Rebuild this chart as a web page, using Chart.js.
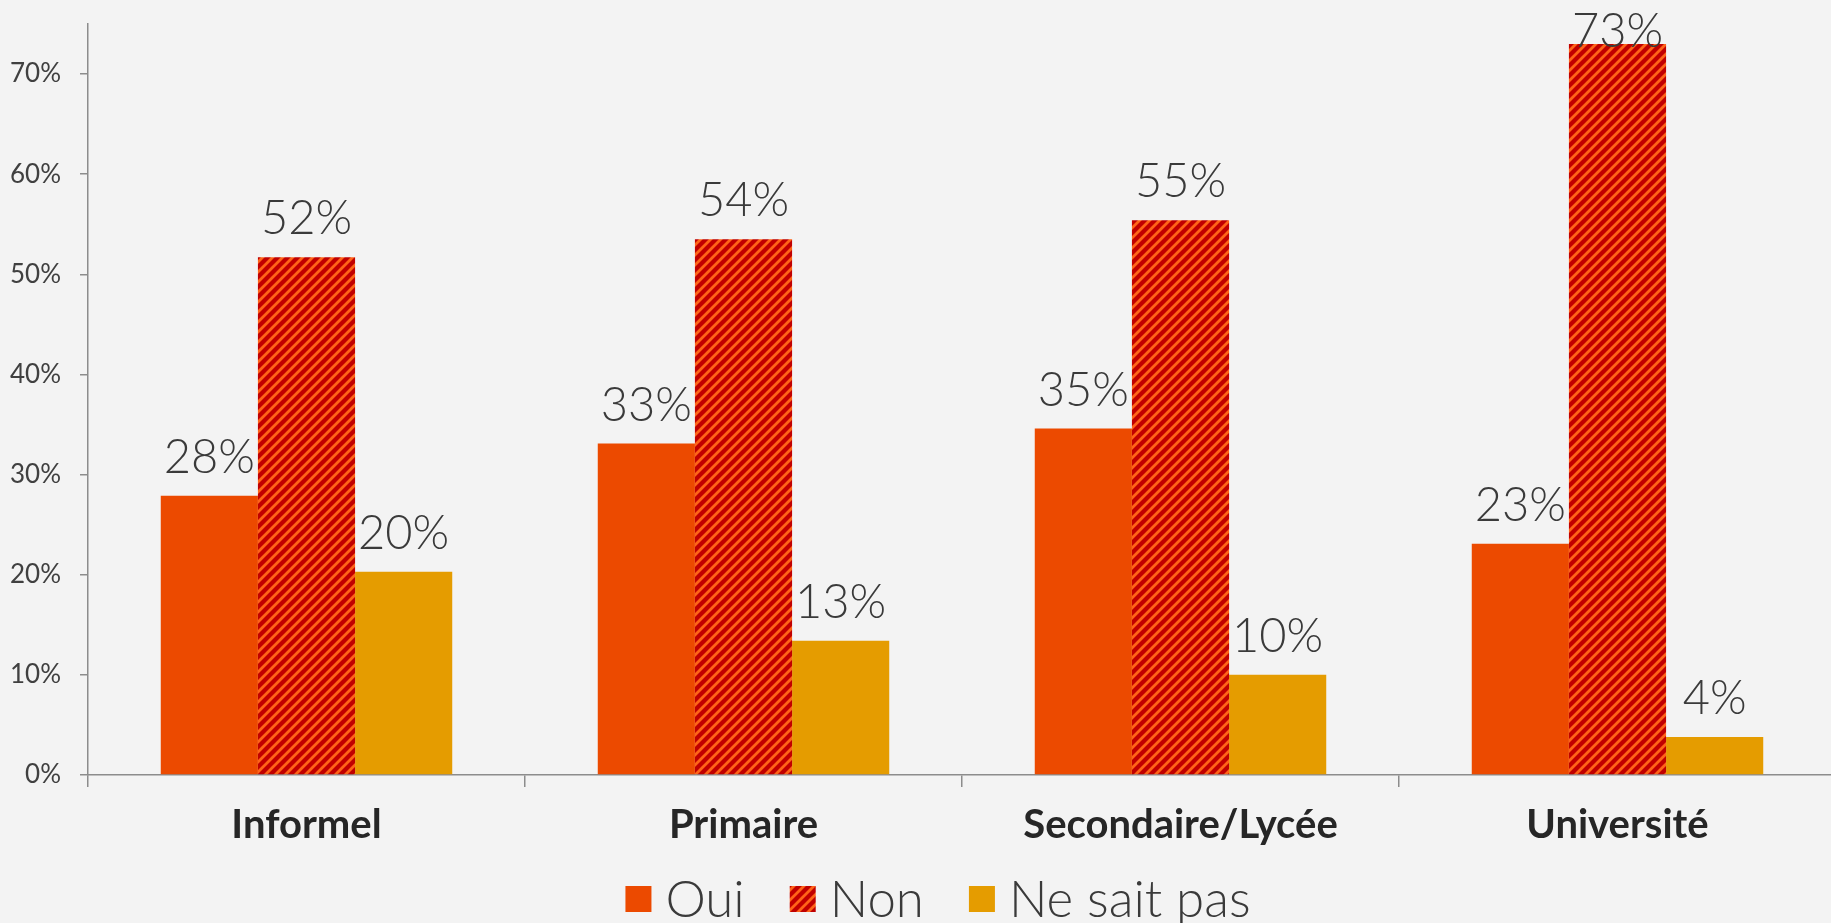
<!DOCTYPE html>
<html>
<head>
<meta charset="utf-8">
<script src="https://cdn.jsdelivr.net/npm/chart.js@4.4.1/dist/chart.umd.min.js"></script>
<style>
  html, body { margin: 0; padding: 0; background: #f3f3f3; overflow: hidden; }
  #wrap { width: 1840px; height: 923px; }
</style>
</head>
<body>
<div id="wrap"><canvas id="chart" width="1840" height="923"></canvas></div>
<script>
const categories = ["Informel", "Primaire", "Secondaire/Lycée", "Université"];
const seriesNames = ["Oui", "Non", "Ne sait pas"];
const ouiValues = [0.279, 0.331, 0.346, 0.231];
const nonValues = [0.517, 0.535, 0.554, 0.730];
const nspValues = [0.203, 0.134, 0.100, 0.038];
const yMax = 0.75;
const yStep = 0.1;

// diagonal stripes for the "Non" series
function makeHatch() {
  const s = 10;
  const c = document.createElement("canvas");
  c.width = s;
  c.height = s;
  const g = c.getContext("2d");
  g.fillStyle = "#c00000";
  g.fillRect(0, 0, s, s);
  g.strokeStyle = "#ff6418";
  g.lineWidth = 2.8;
  g.beginPath();
  g.moveTo(-1, s + 1); g.lineTo(s + 1, -1);
  g.moveTo(-1, 1); g.lineTo(1, -1);
  g.moveTo(s - 1, s + 1); g.lineTo(s + 1, s - 1);
  g.stroke();
  return g.createPattern(c, "repeat");
}

const pct = (v) => Math.round(v * 100) + "%";
const textColor = "#3a3a3a";
const labelFont = "300 47px Lato";

// value labels above each bar
const valueLabels = {
  id: "valueLabels",
  afterDatasetsDraw(chart) {
    const ctx = chart.ctx;
    ctx.save();
    ctx.font = labelFont;
    ctx.fillStyle = textColor;
    ctx.textAlign = "center";
    ctx.textBaseline = "alphabetic";
    chart.data.datasets.forEach((ds, i) => {
      chart.getDatasetMeta(i).data.forEach((bar, j) => {
        const y = Math.max(bar.y - 23, 47);
        ctx.fillText(pct(ds.data[j]), bar.x, y);
      });
    });
    ctx.restore();
  }
};

// legend row under the axis labels
const bottomLegend = {
  id: "bottomLegend",
  afterDraw(chart) {
    const ctx = chart.ctx;
    const box = 26, gapText = 14, gapItem = 45;
    const cx = 938, cy = 899;
    ctx.save();
    ctx.font = "300 51px Lato";
    const widths = chart.data.datasets.map((ds) => ctx.measureText(ds.label).width);
    let total = 0;
    widths.forEach((w, i) => { total += box + gapText + w + (i < widths.length - 1 ? gapItem : 0); });
    let x = cx - total / 2;
    ctx.textBaseline = "middle";
    chart.data.datasets.forEach((ds, i) => {
      ctx.fillStyle = ds.backgroundColor;
      ctx.fillRect(x, cy - box / 2, box, box);
      x += box + gapText;
      ctx.fillStyle = textColor;
      ctx.fillText(ds.label, x, cy + 2);
      x += widths[i] + gapItem;
    });
    ctx.restore();
  }
};

const axisColor = "#8c8c8c";

new Chart(document.getElementById("chart"), {
  type: "bar",
  data: {
    labels: categories,
    datasets: [
      { label: seriesNames[0], data: ouiValues, backgroundColor: "#ec4a00" },
      { label: seriesNames[1], data: nonValues, backgroundColor: makeHatch() },
      { label: seriesNames[2], data: nspValues, backgroundColor: "#e59c00" }
    ]
  },
  options: {
    responsive: false,
    animation: false,
    devicePixelRatio: 1,
    layout: { autoPadding: false, padding: { top: 24, right: 4, left: 0, bottom: 60 } },
    datasets: { bar: { categoryPercentage: 0.667, barPercentage: 1.0, borderWidth: 0 } },
    plugins: {
      tooltip: { enabled: false },
      legend: { display: false }
    },
    scales: {
      x: {
        afterFit: (s) => { s.height = 88; },
        border: { color: axisColor, width: 1.5 },
        grid: { offset: true, drawOnChartArea: false, drawTicks: true, tickLength: 12, color: axisColor, lineWidth: 1.5 },
        ticks: { color: "#262626", padding: 14, font: { family: "Lato", size: 40, weight: "bold" } }
      },
      y: {
        min: 0,
        max: yMax,
        afterFit: (s) => { s.width = 88; s.paddingTop = 0; s.paddingBottom = 0; },
        border: { color: axisColor, width: 1.5 },
        grid: { drawOnChartArea: false, drawTicks: true, tickLength: 8, color: axisColor, lineWidth: 1.5 },
        ticks: {
          stepSize: yStep,
          includeBounds: false,
          padding: 19,
          color: "#404040",
          font: { family: "Lato", size: 26 },
          callback: (v) => pct(v)
        }
      }
    }
  },
  plugins: [valueLabels, bottomLegend]
});
</script>
</body>
</html>
